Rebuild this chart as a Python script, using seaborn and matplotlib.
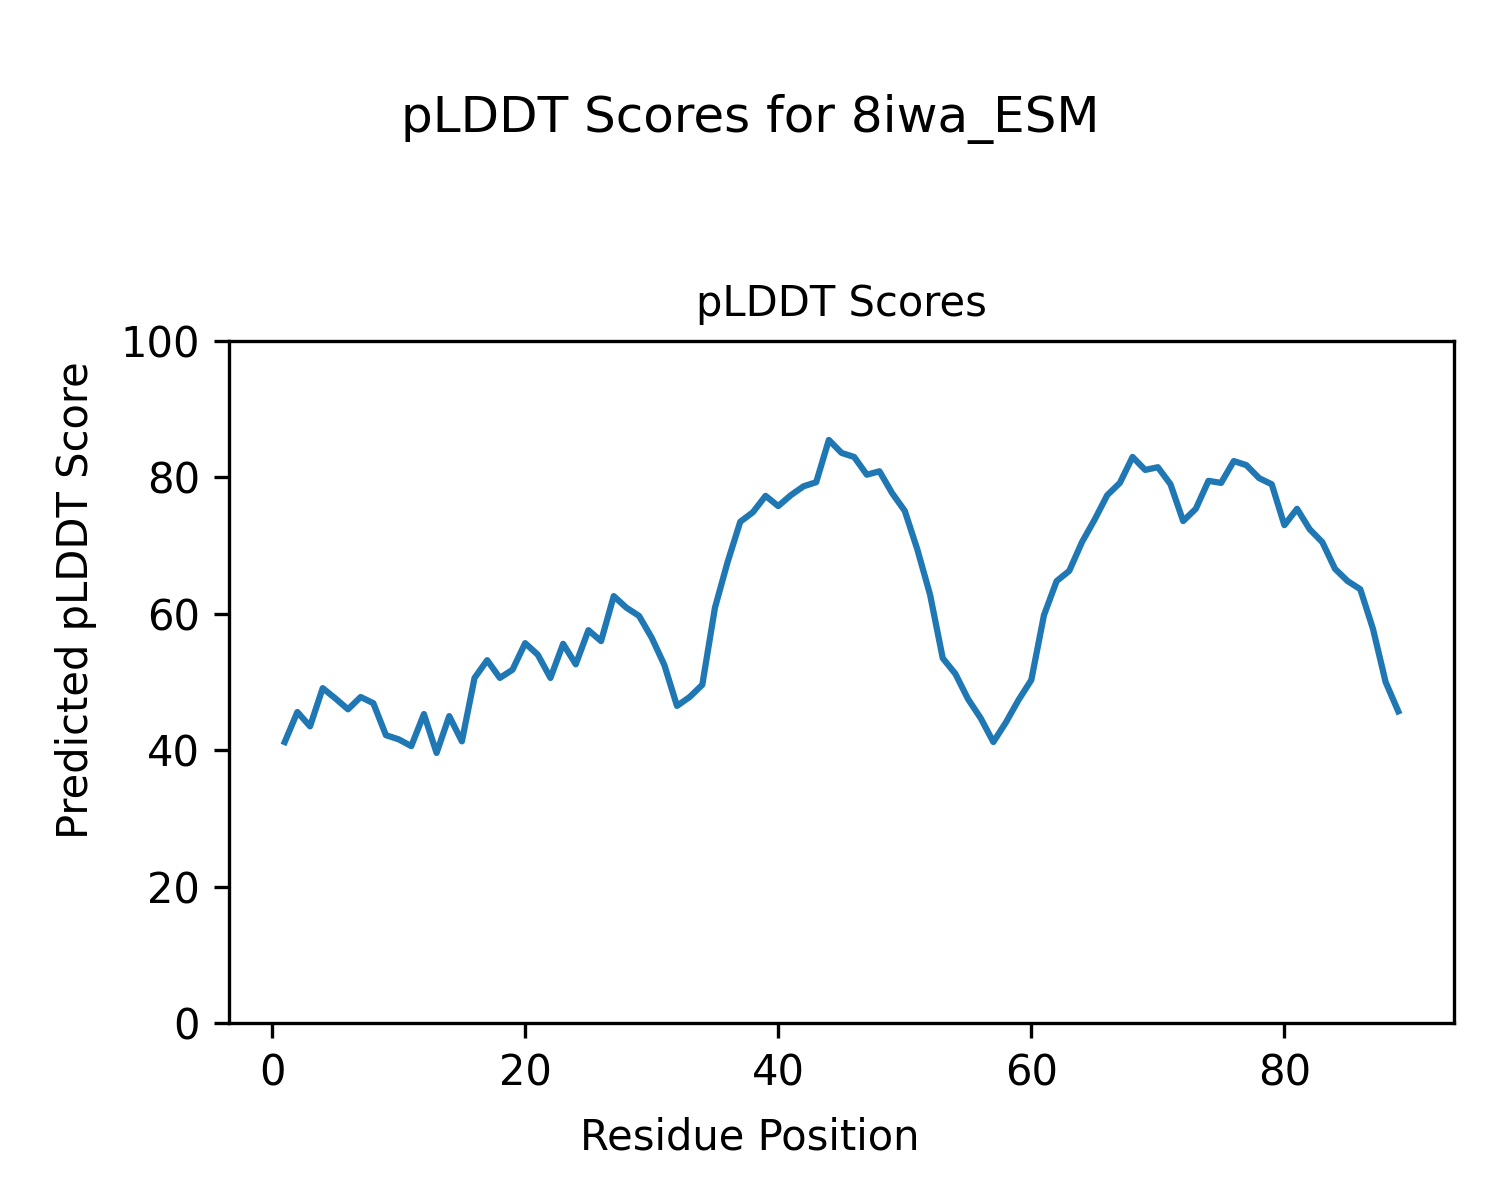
import matplotlib
matplotlib.use("Agg")
import matplotlib.pyplot as plt
import seaborn as sns
import pandas as pd

# residue positions 1..89 and pLDDT values
residues = list(range(1, 90))
plddt = [41.2, 45.6, 43.5, 49.1, 47.6, 46.0, 47.8, 46.9, 42.2, 41.6,
         40.6, 45.3, 39.6, 45.0, 41.3, 50.6, 53.2, 50.6, 51.8, 55.7,
         54.0, 50.6, 55.6, 52.6, 57.6, 56.0, 62.6, 60.9, 59.7, 56.5,
         52.5, 46.5, 47.8, 49.6, 60.9, 67.6, 73.5, 74.9, 77.3, 75.8,
         77.4, 78.7, 79.3, 85.5, 83.6, 83.0, 80.4, 80.9, 77.7, 75.1,
         69.4, 62.8, 53.5, 51.2, 47.5, 44.7, 41.2, 44.1, 47.4, 50.3,
         59.8, 64.8, 66.3, 70.5, 73.8, 77.4, 79.2, 83.0, 81.1, 81.5,
         79.0, 73.6, 75.4, 79.5, 79.2, 82.4, 81.8, 79.9, 79.0, 73.0,
         75.4, 72.4, 70.5, 66.6, 64.8, 63.6, 57.8, 50.0, 45.7]

df = pd.DataFrame({'Residue Position': residues, 'pLDDT': plddt})

fig = plt.figure(figsize=(5, 4), dpi=300)
ax = fig.add_axes([0.1527, 0.1475, 0.8166, 0.5683])
sns.lineplot(x='Residue Position', y='pLDDT', data=df, ax=ax, color='#1f77b4', linewidth=1.5)
ax.set_ylim(0, 100)
ax.set_title('pLDDT Scores', fontsize=10)
ax.set_xlabel('')
ax.set_ylabel('')
fig.supxlabel('Residue Position', fontsize=10, y=0.052, va='center')
fig.supylabel('Predicted pLDDT Score', fontsize=10, x=0.051, ha='center', va='center')
fig.suptitle('pLDDT Scores for 8iwa_ESM', fontsize=12, y=0.901, va='center')

plt.savefig('out.png', dpi=300)
